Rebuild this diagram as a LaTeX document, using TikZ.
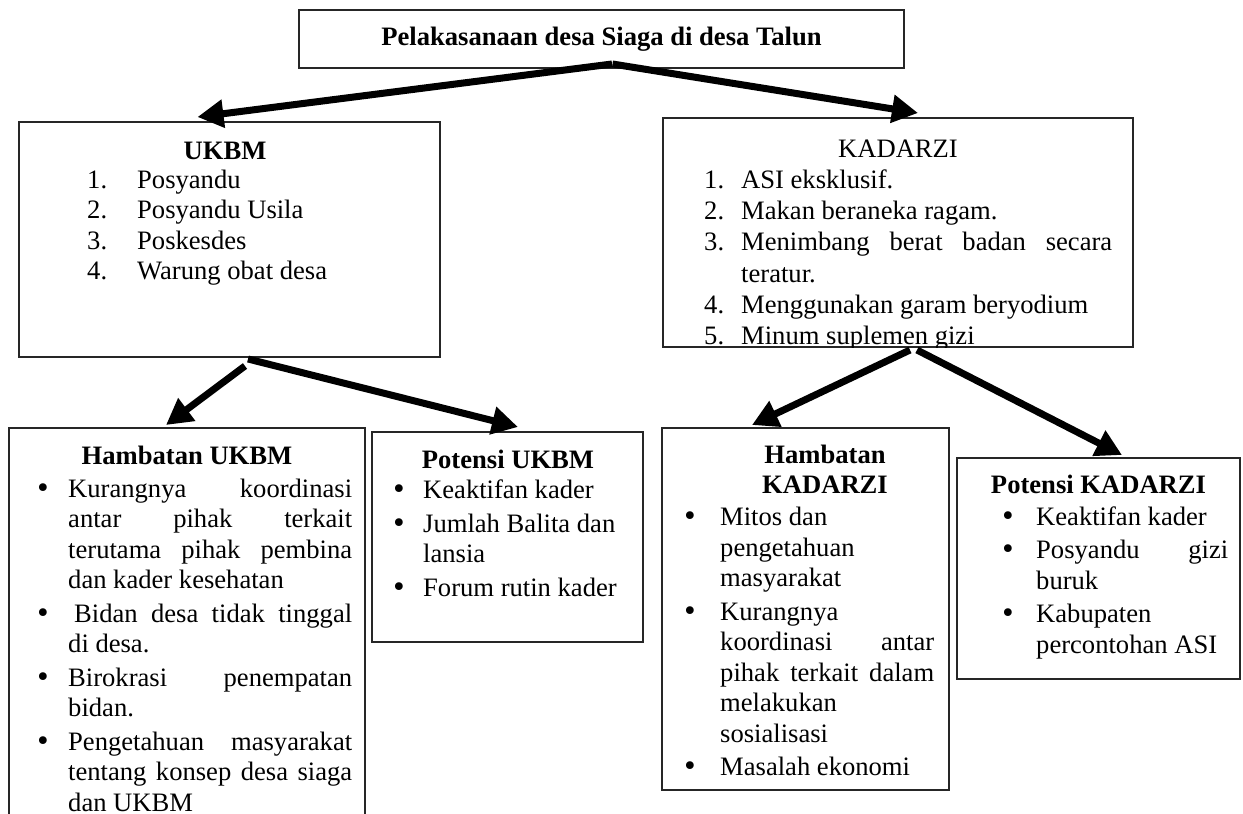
\documentclass[tikz,border=0pt]{standalone}
\usepackage{fontspec}
\setmainfont{Liberation Serif}
\newfontfamily\bulletfont{DejaVu Sans}
\usepackage{enumitem}
\usetikzlibrary{arrows.meta, positioning}

\newcommand{\bodysize}{\fontsize{26.6pt}{30.5pt}\selectfont}
\newcommand{\bigbullet}{{\bulletfont\symbol{"2022}}}
\setlist{topsep=0pt, partopsep=0pt, parsep=0pt, itemsep=3pt, labelindent=0pt, labelsep=0pt, align=left}
\setlist[itemize]{label=\bigbullet}
\tolerance=10000
\hbadness=10000
\frenchspacing

\begin{document}
\begin{tikzpicture}[x=1pt, y=-1pt, font=\bodysize,
    box/.style={draw=black!85, line width=1.2pt, inner sep=0pt, outer sep=0pt, anchor=north west},
    heading/.style={anchor=base, inner sep=0pt, font=\bodysize\bfseries},
    items/.style={anchor=base west, inner sep=0pt, text width=#1, align=justify},
    arr/.style={line width=7pt, -{Triangle[length=26pt, width=27pt]}}]
    \useasboundingbox (0,0) rectangle (1243,814);

    % Boxes
    \node[box, minimum width=605pt, minimum height=58pt] (main) at (299,10) {\textbf{Pelakasanaan desa Siaga di desa Talun}};
    \node[box, minimum width=421pt, minimum height=235pt] (ukbm) at (19,122) {};
    \node[box, minimum width=470pt, minimum height=229pt] (kadarzi) at (663,118) {};
    \node[box, minimum width=356pt, minimum height=420pt] (hukbm) at (9,428) {};
    \node[box, minimum width=271pt, minimum height=210pt] (pukbm) at (372,432) {};
    \node[box, minimum width=287pt, minimum height=362pt] (hkadarzi) at (662,428) {};
    \node[box, minimum width=283pt, minimum height=221pt] (pkadarzi) at (957,458) {};

    % UKBM
    \node[heading] (ukbmhead) at (225,159) {UKBM};
    \node[items=290pt] (ukbmlist) at (87,157.5) {
        \begin{enumerate}[leftmargin=50pt, labelwidth=50pt, itemsep=0pt]
            \item Posyandu
            \item Posyandu Usila
            \item Poskesdes
            \item Warung obat desa
        \end{enumerate}
    };

    % KADARZI
    \node[anchor=base, inner sep=0pt] (kadarzihead) at (898,157) {KADARZI};
    \begin{scope}
        \clip (kadarzi.north west) rectangle (kadarzi.south east);
        \node[items=408pt, font=\fontsize{26.6pt}{31.3pt}\selectfont] (kadarzilist) at (704,157) {
            \begin{enumerate}[leftmargin=37pt, labelwidth=37pt, itemsep=0pt]
                \item ASI eksklusif.
                \item Makan beraneka ragam.
                \item Menimbang berat badan secara\linebreak teratur.
                \item Menggunakan garam beryodium
                \item Minum suplemen gizi
            \end{enumerate}
        };
    \end{scope}

    % Hambatan / Potensi UKBM
    \node[heading] (hukbmhead) at (187,464) {Hambatan UKBM};
    \node[items=317pt] (hukbmlist) at (35,466.5) {
        \begin{itemize}[leftmargin=33pt, labelwidth=33pt]
            \item Kurangnya koordinasi\linebreak antar pihak terkait\linebreak terutama pihak pembina\linebreak dan kader kesehatan
            \item \hspace*{6pt}Bidan desa tidak tinggal\linebreak di desa.
            \item Birokrasi penempatan\linebreak bidan.
            \item Pengetahuan masyarakat\linebreak tentang konsep desa siaga\linebreak dan UKBM
        \end{itemize}
    };
    \node[heading] (pukbmhead) at (508,468) {Potensi UKBM};
    \node[items=240pt] (pukbmlist) at (391,468) {
        \begin{itemize}[leftmargin=32pt, labelwidth=32pt]
            \item Keaktifan kader
            \item Jumlah Balita dan\newline lansia
            \item Forum rutin kader
        \end{itemize}
    };

    % Hambatan / Potensi KADARZI
    \node[heading, text width=220pt, align=center] (hkadarzihead) at (825,463) {Hambatan\\KADARZI};
    \node[items=252pt] (hkadarzilist) at (682,495) {
        \begin{itemize}[leftmargin=38pt, labelwidth=38pt]
            \item Mitos dan\newline pengetahuan\newline masyarakat
            \item Kurangnya\newline koordinasi antar\linebreak pihak terkait dalam\linebreak melakukan\newline sosialisasi
            \item Masalah ekonomi
        \end{itemize}
    };
    \node[heading] (pkadarzihead) at (1098.5,493) {Potensi KADARZI};
    \node[items=228pt] (pkadarzilist) at (1000,494.5) {
        \begin{itemize}[leftmargin=36pt, labelwidth=36pt]
            \item Keaktifan kader
            \item Posyandu gizi\linebreak buruk
            \item Kabupaten\newline percontohan ASI
        \end{itemize}
    };

    % Arrows
    \draw[arr] ([xshift=10.5pt, yshift=4pt]main.south) -- ([xshift=-32pt, yshift=5pt]ukbm.north);
    \draw[arr] ([xshift=11pt, yshift=4pt]main.south) -- ([xshift=20pt, yshift=5pt]kadarzi.north);
    \draw[arr] ([xshift=15.5pt, yshift=-9pt]ukbm.south) -- ([xshift=-21pt, yshift=3pt]hukbm.north);
    \draw[arr] ([xshift=18.5pt, yshift=-2pt]ukbm.south) -- ([xshift=10.5pt, yshift=5pt]pukbm.north);
    \draw[arr] ([xshift=12pt, yshift=-3pt]kadarzi.south) -- ([xshift=-53.5pt, yshift=3pt]hkadarzi.north);
    \draw[arr] ([xshift=19pt, yshift=-3pt]kadarzi.south) -- ([xshift=23.5pt, yshift=3pt]pkadarzi.north);
\end{tikzpicture}
\end{document}
